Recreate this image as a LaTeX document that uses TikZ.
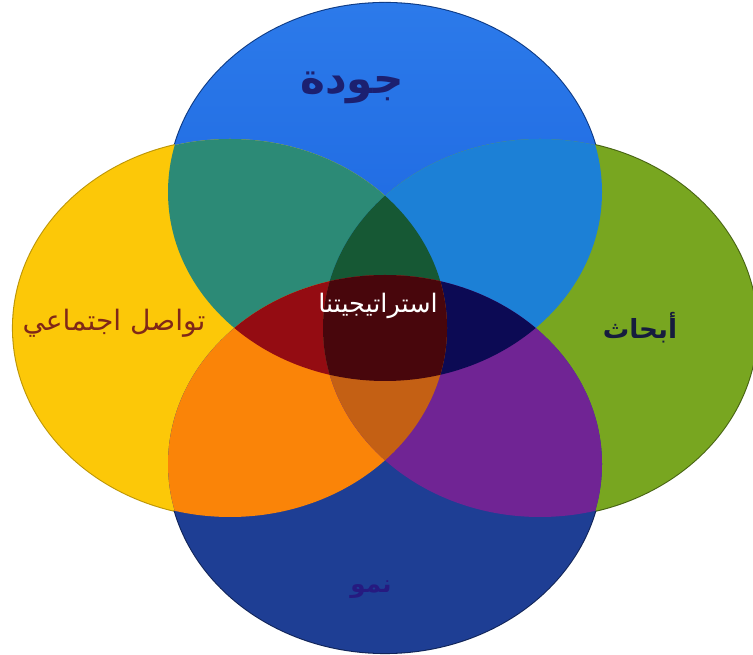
\documentclass[tikz,border=0pt]{standalone}
\usepackage{fontspec}
\newfontfamily\arabicfont[Script=Arabic]{DejaVu Sans}
\TeXXeTstate=1
\usepackage{xcolor}
\usepackage{tikz}
\definecolor{topcolor}{RGB}{24,98,222}
\definecolor{tophicolor}{RGB}{44,122,234}
\definecolor{leftcolor}{RGB}{252,200,8}
\definecolor{rightcolor}{RGB}{120,166,32}
\definecolor{botcolor}{RGB}{30,62,148}
\definecolor{tlcolor}{RGB}{44,138,118}
\definecolor{trcolor}{RGB}{28,128,214}
\definecolor{lbcolor}{RGB}{250,132,8}
\definecolor{rbcolor}{RGB}{112,36,148}
\definecolor{tlrcolor}{RGB}{22,88,52}
\definecolor{tlbcolor}{RGB}{148,12,18}
\definecolor{trbcolor}{RGB}{12,10,84}
\definecolor{blrcolor}{RGB}{196,96,20}
\definecolor{allcolor}{RGB}{72,6,12}
\definecolor{navytext}{RGB}{28,32,112}
\definecolor{browntext}{RGB}{128,40,24}
\definecolor{darktext}{RGB}{22,28,62}
\definecolor{growthtext}{RGB}{38,26,128}

% the four circles of the diagram
\def\topE{(385,463) ellipse [x radius=217, y radius=189]}
\def\botE{(385,191) ellipse [x radius=217, y radius=189]}
\def\leftE{(230,327) ellipse [x radius=217, y radius=189]}
\def\rightE{(540,327) ellipse [x radius=217, y radius=189]}

\begin{document}
\begin{tikzpicture}[x=0.02cm, y=0.02cm,
  rim/.style={draw=#1, line width=1.2pt},
  lbl/.style={inner sep=0pt, font=\arabicfont\fontsize{#1}{#1}\selectfont},
  lblb/.style={inner sep=0pt, font=\arabicfont\bfseries\fontsize{#1}{#1}\selectfont}
]
  \useasboundingbox (0,0) rectangle (753,655);

  % Outer rims
  \draw[rim=topcolor!60!black] \topE;
  \draw[rim=leftcolor!75!black] \leftE;
  \draw[rim=rightcolor!60!black] \rightE;
  \draw[rim=botcolor!60!black] \botE;

  % Single circles
  \shade[top color=tophicolor, bottom color=topcolor] \topE;
  \fill[leftcolor] \leftE;
  \fill[rightcolor] \rightE;
  \fill[botcolor] \botE;

  % Overlaps of two
  \begin{scope} \clip \topE; \fill[tlcolor] \leftE; \end{scope}
  \begin{scope} \clip \topE; \fill[trcolor] \rightE; \end{scope}
  \begin{scope} \clip \botE; \fill[lbcolor] \leftE; \end{scope}
  \begin{scope} \clip \botE; \fill[rbcolor] \rightE; \end{scope}

  % Overlaps of three
  \begin{scope} \clip \topE; \clip \leftE; \fill[tlrcolor] \rightE; \end{scope}
  \begin{scope} \clip \topE; \clip \leftE; \fill[tlbcolor] \botE; \end{scope}
  \begin{scope} \clip \topE; \clip \rightE; \fill[trbcolor] \botE; \end{scope}
  \begin{scope} \clip \botE; \clip \leftE; \fill[blrcolor] \rightE; \end{scope}

  % Centre
  \begin{scope} \clip \topE; \clip \leftE; \clip \rightE; \fill[allcolor] \botE; \end{scope}

  % Labels
  \node[lblb=24, text=navytext] (quality) at (352,567) {\beginR جودة\endR};
  \node[lbl=16, text=browntext] (social) at (114,332) {\beginR تواصل اجتماعي\endR};
  \node[lblb=15, text=darktext] (research) at (640,327) {\beginR أبحاث\endR};
  \node[lbl=14.5, text=white] (strategy) at (378,349) {\beginR استراتيجيتنا\endR};
  \node[lblb=14, text=growthtext] (growth) at (371,65) {\beginR نمو\endR};

\end{tikzpicture}
\end{document}
